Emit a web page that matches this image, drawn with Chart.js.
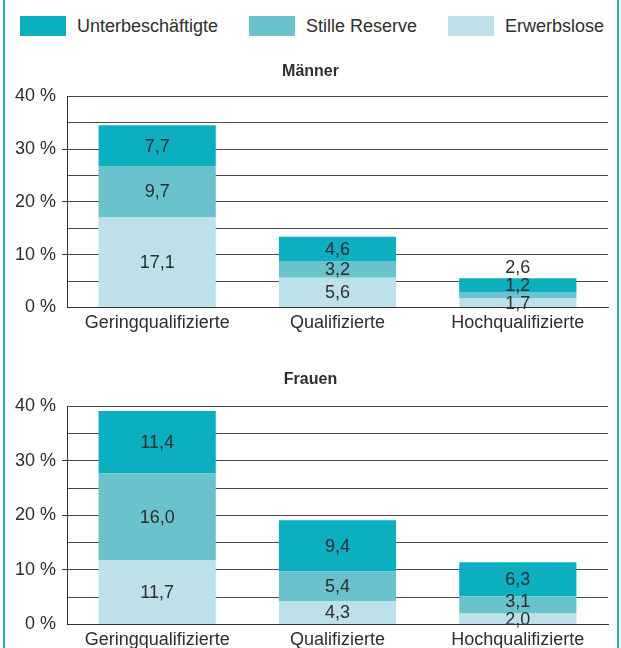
<!DOCTYPE html>
<html lang="de">
<head>
<meta charset="utf-8">
<script src="https://cdn.jsdelivr.net/npm/chart.js@4.4.1/dist/chart.umd.min.js"></script>
<style>
  html, body { margin: 0; padding: 0; background: #fff; }
  body { width: 621px; height: 648px; position: relative; overflow: hidden; font-family: "Liberation Sans", Arial, sans-serif; color: #2e2e2e; }
  #rahmen { position: absolute; left: 3px; top: 0; width: 612px; height: 648px; border-left: 2px solid #1fb0c0; border-right: 2px solid #1fb0c0; }
  #legende { position: absolute; left: 20px; width: 584px; top: 16px; height: 20px; display: flex; justify-content: space-between; }
  .eintrag { display: flex; align-items: center; font-size: 18px; }
  .kasten { width: 46px; height: 20px; margin-right: 11px; }
  canvas { position: absolute; left: 0; }
  #maenner { top: 55px; }
  #frauen { top: 360px; }
</style>
</head>
<body>
<div id="rahmen"></div>
<div id="legende"></div>
<canvas id="maenner" width="621" height="290"></canvas>
<canvas id="frauen" width="621" height="296"></canvas>
<script>
// Kategorien und Reihen (von unten nach oben gestapelt)
const kategorien = ['Geringqualifizierte', 'Qualifizierte', 'Hochqualifizierte'];
const reihen = ['Erwerbslose', 'Stille Reserve', 'Unterbeschäftigte'];
const farben = ['#bde1e8', '#6ac2cc', '#0cafbf'];

// Männer
const maennerErwerbslose = [17.1, 5.6, 1.7];
const maennerStilleReserve = [9.7, 3.2, 1.2];
const maennerUnterbeschaeftigte = [7.7, 4.6, 2.6];

// Frauen
const frauenErwerbslose = [11.7, 4.3, 2.0];
const frauenStilleReserve = [16.0, 5.4, 3.1];
const frauenUnterbeschaeftigte = [11.4, 9.4, 6.3];

// Achse
const yMax = 40;
const yStep = 5;

const textFarbe = '#2e2e2e';
const schrift = '"Liberation Sans", Arial, sans-serif';

// Legende (umgekehrte Reihenfolge wie im Original)
const legende = document.getElementById('legende');
for (let i = reihen.length - 1; i >= 0; i--) {
  const el = document.createElement('div');
  el.className = 'eintrag';
  el.innerHTML = '<span class="kasten" style="background:' + farben[i] + '"></span>' + reihen[i];
  legende.appendChild(el);
}

// Werte in die Segmente schreiben, Überlappungen nach oben schieben
const wertePlugin = {
  id: 'werte',
  afterDatasetsDraw(chart) {
    const ctx = chart.ctx;
    ctx.save();
    ctx.font = '18px ' + schrift;
    ctx.fillStyle = textFarbe;
    ctx.textAlign = 'center';
    ctx.textBaseline = 'middle';
    kategorien.forEach((k, i) => {
      let letztes = null;
      chart.data.datasets.forEach((ds, d) => {
        const bar = chart.getDatasetMeta(d).data[i];
        let y = (bar.y + bar.base) / 2;
        if (letztes !== null) y = Math.min(y, letztes - 18);
        letztes = y;
        const txt = ds.data[i].toLocaleString('de-DE', { minimumFractionDigits: 1, maximumFractionDigits: 1 });
        ctx.fillText(txt, bar.x, y + 1);
      });
    });
    ctx.restore();
  }
};

function diagramm(id, titel, daten, pad) {
  return new Chart(document.getElementById(id), {
    type: 'bar',
    data: {
      labels: kategorien,
      datasets: reihen.map((r, i) => ({
        label: r,
        data: daten[i],
        backgroundColor: farben[i],
        borderWidth: 0,
        categoryPercentage: 1,
        barPercentage: 0.65
      }))
    },
    options: {
      responsive: false,
      animation: false,
      layout: { padding: { left: 13, right: 13, top: 0, bottom: pad.unten } },
      plugins: {
        legend: { display: false },
        tooltip: { enabled: false },
        title: {
          display: true,
          text: titel,
          color: textFarbe,
          font: { family: schrift, size: 16, weight: 'bold' },
          padding: { top: pad.oben, bottom: pad.titel }
        }
      },
      scales: {
        x: {
          stacked: true,
          grid: { display: false, drawTicks: false },
          border: { display: true, color: '#333', width: 1 },
          ticks: { color: textFarbe, font: { family: schrift, size: 18 }, padding: 5, maxRotation: 0 }
        },
        y: {
          stacked: true,
          min: 0,
          max: yMax,
          afterFit(scale) { scale.width = 54; },
          ticks: {
            stepSize: yStep,
            autoSkip: false,
            color: textFarbe,
            padding: 6,
            font: { family: schrift, size: 18 },
            callback: v => (v % 10 === 0 ? v + ' %' : '')
          },
          grid: {
            color: '#4a4a4a',
            lineWidth: 1,
            drawTicks: true,
            tickLength: 5,
            tickColor: c => (c.tick && c.tick.value % 10 === 0 && c.tick.value > 0 && c.tick.value < yMax ? '#333' : 'rgba(0,0,0,0)')
          },
          border: { display: true, color: '#333', width: 1 }
        }
      }
    },
    plugins: [wertePlugin]
  });
}

diagramm('maenner', 'Männer', [maennerErwerbslose, maennerStilleReserve, maennerUnterbeschaeftigte], { oben: 7, titel: 15, unten: 6 });
diagramm('frauen', 'Frauen', [frauenErwerbslose, frauenStilleReserve, frauenUnterbeschaeftigte], { oben: 10, titel: 17, unten: 0 });
</script>
</body>
</html>
